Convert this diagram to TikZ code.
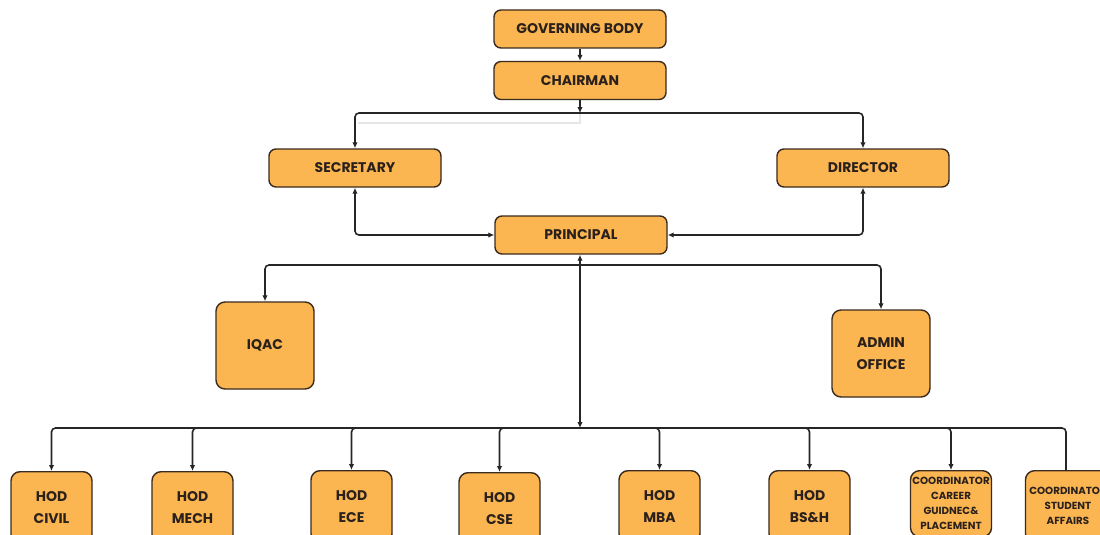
\documentclass[tikz,border=0pt]{standalone}
\usepackage{fontspec}
\setmainfont{Poppins}
\usetikzlibrary{arrows.meta}
\definecolor{boxfill}{HTML}{FBB651}
\definecolor{boxline}{HTML}{3B2A1E}
\definecolor{txt}{HTML}{2B211C}
\definecolor{wirec}{HTML}{262626}
\definecolor{faint}{HTML}{E6E6E6}
\begin{document}
\begin{tikzpicture}[x=1pt,y=-1pt,
  box/.style={draw=boxline, line width=1.4pt, fill=boxfill, rounded corners=7pt, inner sep=0pt, text=txt, align=center, font=\bfseries\fontsize{14}{22.5}\selectfont},
  wbox/.style={box, minimum width=172pt, minimum height=38pt},
  sqbox/.style={box, minimum width=98pt, minimum height=87pt, rounded corners=9pt},
  hod/.style={box, anchor=north, minimum width=81pt, minimum height=72pt, rounded corners=9pt},
  coord/.style={hod, font=\bfseries\fontsize{10.3}{15}\selectfont},
  wire/.style={draw=wirec, line width=1.6pt, rounded corners=4pt},
  tip/.style={-{Latex[length=6pt,width=5.5pt]}},
  tips/.style={{Latex[length=6pt,width=5.5pt]}-{Latex[length=6pt,width=5.5pt]}}
]
\clip (0,0) rectangle (1100,535);
\fill[white] (0,0) rectangle (1100,535);

% nodes
\node[wbox] (gb)  at (580,29)  {GOVERNING BODY};
\node[wbox] (ch)  at (580,80.5) {CHAIRMAN};
\node[wbox] (sec) at (355,168) {SECRETARY};
\node[wbox] (dir) at (863,168) {DIRECTOR};
\node[wbox] (pri) at (581,235) {PRINCIPAL};
\node[sqbox] (iqac) at (265,345.5) {IQAC};
\node[sqbox] (adm)  at (881,353.5) {ADMIN\\OFFICE};

\node[hod] (civil) at (51.5,471)  {HOD\\CIVIL};
\node[hod] (mech)  at (192.5,471) {HOD\\MECH};
\node[hod] (ece)   at (351.5,470) {HOD\\ECE};
\node[hod] (cse)   at (499.5,472) {HOD\\CSE};
\node[hod] (mba)   at (659.5,470) {HOD\\MBA};
\node[hod] (bsh)   at (809.5,470) {HOD\\BS\&H};
\node[coord, minimum height=66pt] (car) at (951,470) {COORDINATOR\\CAREER\\GUIDNEC\&\\PLACEMENT};
\node[coord, minimum width=85pt] (stu) at (1068,470) {\\[-10pt]COORDINATOR\\STUDENT\\AFFAIRS};

% coordinates
\coordinate (cb) at (580,113);
\coordinate (g1) at (580,123);
\coordinate (g2) at (358,123);
\coordinate (pb) at (580,265);
\coordinate (bb) at (580,428);

% faint guide line
\draw[faint, line width=1.2pt] (ch.south) -- (g1) -- (g2);

% top connectors
\draw[wire, tip] (gb.south) -- (ch.north);
\draw[wire, tip] (ch.south) -- (cb);
\draw[wire, tip] (cb) -| (sec.north);
\draw[wire, tip] (cb) -| (dir.north);

% secretary / director to principal
\draw[wire, tips] (sec.south) |- (pri.west);
\draw[wire, tips] (dir.south) |- (pri.east);

% principal to IQAC / admin
\draw[wire, tip] (pb) -| (iqac.north);
\draw[wire, tip] (pb) -| (adm.north);

% principal to bottom bus
\draw[wire, tips] (pri.south -| bb) -- (bb);

% bottom bus
\draw[wire, tip] (bb) -| (civil.north);
\draw[wire, tip] (bb) -| (mech.north);
\draw[wire, tip] (bb) -| (ece.north);
\draw[wire, tip] (bb) -| (cse.north);
\draw[wire, tip] (bb) -| (mba.north);
\draw[wire, tip] (bb) -| (bsh.north);
\draw[wire, tip] (bb) -| (car.north);
\draw[wire] (bb) -| (stu.north -| 1066,0);
\end{tikzpicture}
\end{document}
